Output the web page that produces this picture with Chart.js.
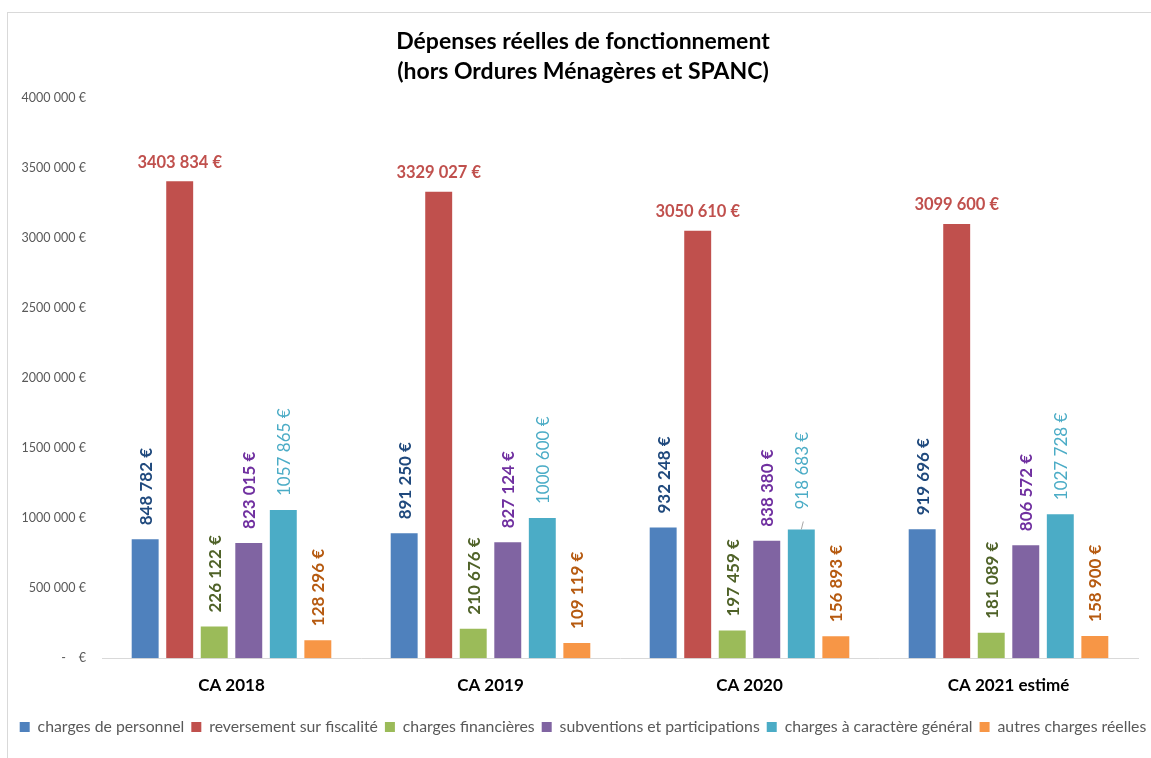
<!DOCTYPE html>
<html>
<head>
<meta charset="utf-8">
<script src="https://cdn.jsdelivr.net/npm/chart.js@4/dist/chart.umd.min.js"></script>
<style>
  html, body { margin: 0; padding: 0; background: #fff; overflow: hidden; width: 1151px; height: 758px; }
  #frame { position: absolute; left: 7px; top: 12px; border-left: 1px solid #d9d9d9; border-top: 1px solid #d9d9d9; width: 1150px; height: 746px; }
  #c { position: absolute; left: 0; top: 0; }
</style>
</head>
<body>
<div id="frame"><canvas id="c" width="1150" height="745"></canvas></div>
<script>
const categories = ['CA 2018', 'CA 2019', 'CA 2020', 'CA 2021 estimé'];
const seriesNames = ['charges de personnel', 'reversement sur fiscalité', 'charges financières', 'subventions et participations', 'charges à caractère général', 'autres charges réelles'];
const chargesPersonnel = [848782, 891250, 932248, 919696];
const reversementFiscalite = [3403834, 3329027, 3050610, 3099600];
const chargesFinancieres = [226122, 210676, 197459, 181089];
const subventions = [823015, 827124, 838380, 806572];
const chargesGenerales = [1057865, 1000600, 918683, 1027728];
const autresCharges = [128296, 109119, 156893, 158900];
const yTicks = [0, 500000, 1000000, 1500000, 2000000, 2500000, 3000000, 3500000, 4000000];

const barColors = ['#4F81BD', '#C0504D', '#9BBB59', '#8064A2', '#4BACC6', '#F79646'];
const labelColors = ['#1F497D', '#C0504D', '#4F6228', '#7030A0', '#4BACC6', '#B65A10'];
const labelBold = [true, true, true, true, false, true];

function fmt(v) {
  if (v === 0) return '-    €';
  const th = Math.floor(v / 1000);
  const rest = String(v % 1000).padStart(3, '0');
  return th + ' ' + rest + ' €';
}

const valueLabels = {
  id: 'valueLabels',
  afterDatasetsDraw(chart) {
    const ctx = chart.ctx;
    chart.data.datasets.forEach((ds, di) => {
      const meta = chart.getDatasetMeta(di);
      meta.data.forEach((bar, i) => {
        const text = fmt(ds.data[i]);
        ctx.save();
        ctx.fillStyle = labelColors[di];
        if (di === 1) {
          ctx.font = 'bold 16.5px Lato';
          ctx.textAlign = 'center';
          ctx.textBaseline = 'middle';
          ctx.fillText(text, bar.x, bar.y - 19);
        } else {
          ctx.font = (labelBold[di] ? 'bold ' : '') + '17px Lato';
          let gap = 14;
          if (di === 4 && i === 2) {
            gap = 20;
            ctx.strokeStyle = '#a6a6a6';
            ctx.lineWidth = 1;
            ctx.beginPath();
            ctx.moveTo(bar.x, bar.y);
            ctx.lineTo(bar.x + 2, bar.y - 8);
            ctx.stroke();
          }
          ctx.translate(bar.x + 1, bar.y - gap);
          ctx.rotate(-Math.PI / 2);
          ctx.textAlign = 'left';
          ctx.textBaseline = 'middle';
          ctx.fillText(text, 0, 0);
        }
        ctx.restore();
      });
    });
  }
};

const dataArrays = [chargesPersonnel, reversementFiscalite, chargesFinancieres, subventions, chargesGenerales, autresCharges];

new Chart(document.getElementById('c'), {
  type: 'bar',
  data: {
    labels: categories,
    datasets: dataArrays.map((d, k) => ({
      label: seriesNames[k],
      data: d,
      backgroundColor: barColors[k],
      borderWidth: 0,
      categoryPercentage: 0.8,
      barPercentage: 0.78
    }))
  },
  options: {
    responsive: false,
    animation: false,
    events: [],
    layout: { padding: { left: 0, right: 0, top: 0, bottom: 13 } },
    plugins: {
      title: {
        display: true,
        text: ['Dépenses réelles de fonctionnement', '(hors Ordures Ménagères et SPANC)'],
        color: '#000',
        font: { family: 'Lato', size: 23, weight: 'bold', lineHeight: 1.3 },
        padding: { top: 14, bottom: 11 }
      },
      legend: {
        position: 'bottom',
        labels: {
          color: '#595959',
          font: { family: 'Lato', size: 15.8 },
          boxWidth: 10,
          boxHeight: 10,
          padding: 7
        }
      },
      tooltip: { enabled: false }
    },
    scales: {
      x: {
        grid: { display: false },
        border: { display: true, color: '#d9d9d9', width: 1 },
        afterFit: s => { s.height = 54; },
        ticks: { color: '#000', font: { family: 'Lato', size: 17, weight: 'bold' }, padding: 9 }
      },
      y: {
        min: 0,
        max: 4000000,
        afterBuildTicks: s => { s.ticks = yTicks.map(v => ({ value: v })); },
        afterFit: s => { s.width = 94; },
        grid: { display: false },
        border: { display: false },
        ticks: { color: '#595959', font: { family: 'Lato', size: 12.5 }, padding: 8, callback: v => fmt(v) }
      },
      yRight: {
        position: 'right',
        display: true,
        grid: { display: false },
        border: { display: false },
        ticks: { display: false },
        afterFit: s => { s.width = 20; }
      }
    }
  },
  plugins: [valueLabels]
});
</script>
</body>
</html>
